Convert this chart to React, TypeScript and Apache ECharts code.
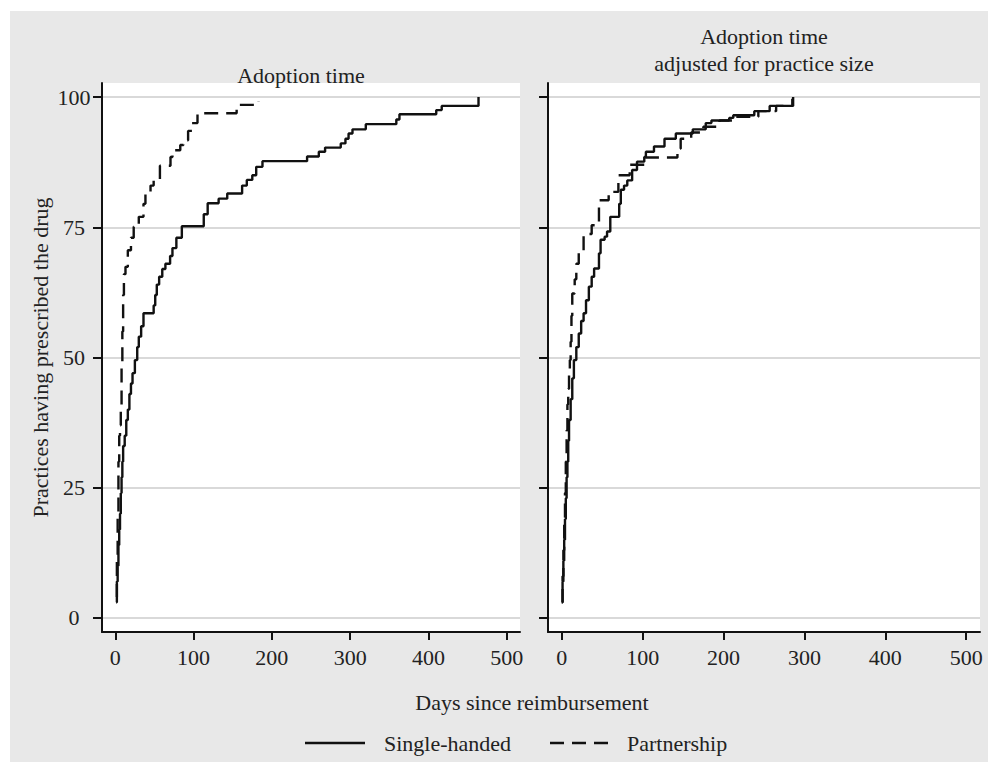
import React, { useEffect, useRef } from "react";
import * as echarts from "echarts";

const xTicks = [0, 100, 200, 300, 400, 500];
const yTicks = [0, 25, 50, 75, 100];

// Panel 1: Adoption time
const singleDays = [1, 2, 3, 4, 5, 6, 7, 8, 9, 10, 12, 14, 16, 18, 20, 22, 25, 28, 30, 33, 36, 49, 51, 53, 56, 60, 64, 70, 73, 78, 85, 113, 118, 132, 143, 162, 168, 175, 180, 188, 245, 260, 268, 288, 294, 298, 303, 320, 359, 363, 410, 417, 464];
const singlePct = [3, 7, 10, 14, 17, 20, 24, 27, 30, 33, 35, 38, 40, 43, 45, 47, 49.5, 52, 54, 56, 58.5, 60, 62, 64, 65.5, 67, 68, 69.5, 71, 73, 75.2, 77.5, 79.6, 80.5, 81.5, 83, 84.1, 85, 86.6, 87.7, 88.6, 89.5, 90.3, 91.1, 92, 93, 93.8, 94.8, 95.7, 96.7, 97.5, 98.3, 100];

const partnerDays = [1, 2, 3, 4, 5, 6, 7, 8, 9, 10, 11, 13, 16, 20, 23.5, 30, 36, 38.5, 45, 49, 57, 70.5, 73, 83, 87, 93, 98, 105, 155, 183];
const partnerPct = [4, 12, 20, 30, 35, 37, 40, 48, 55, 62, 66, 67.4, 70.6, 73, 75.1, 77, 79.5, 81.8, 83, 84, 86.8, 88.5, 89.8, 90.8, 91.7, 93.5, 95, 96.9, 98.5, 99.2];

// Panel 2: Adoption time adjusted for practice size
const singleAdjDays = [0, 1, 2, 3, 4, 5, 6, 7, 8, 9, 11, 13, 15, 18, 21, 24, 27, 30, 33.5, 37, 40, 46, 48, 53, 56, 60, 71, 73, 77, 81, 87, 93, 102, 104, 114, 127, 141, 162, 178, 185, 207, 212, 238, 257, 286];
const singleAdjPct = [3, 7, 11, 15, 19, 23, 27, 30, 34, 38, 42, 46, 49.5, 52, 54.6, 57, 58.5, 61, 63.6, 65.5, 67.1, 70, 72.6, 73.2, 74.2, 77, 79.5, 82.2, 83, 84, 86, 87.6, 88.5, 89.5, 90.5, 92, 93, 93.8, 95, 95.5, 96, 96.5, 97.3, 98.3, 100];

const partnerAdjDays = [0, 1, 2, 3, 4, 5, 6, 7, 8, 9, 10, 11, 12, 13, 16, 18, 21, 27, 37, 46, 58, 70, 84, 104, 143, 147, 160, 175, 195, 215, 243, 265, 285];
const partnerAdjPct = [3, 8, 13, 18, 24, 30, 36, 41, 44, 47, 49.5, 53, 58, 62.3, 65, 68, 70.6, 73.7, 75.4, 80.2, 81.8, 85, 87, 88.4, 90.1, 92, 93.2, 94.3, 95.5, 96.2, 97.3, 98.3, 99.7];

const seriesNames = ["Single-handed", "Partnership"];
const xTitle = "Days since reimbursement";
const yTitle = "Practices having prescribed the drug";
const panel1Title = "Adoption time";
const panel2Title = ["Adoption time", "adjusted for practice size"];

const FONT = "'Liberation Serif', 'Times New Roman', serif";
const INK = "#111";

const pairs = (d: number[], v: number[]) => d.map((x, i) => [x, v[i]]);

export default function App() {
  const ref = useRef<HTMLDivElement>(null);
  useEffect(() => {
    const chart = echarts.init(ref.current!, null, { renderer: "svg" });
    const xAxisFor = (i: number) => ({
      type: "value",
      gridIndex: i,
      min: -17,
      max: 517,
      axisLine: { show: true, onZero: false, lineStyle: { color: INK, width: 2 } },
      axisTick: { show: true, length: 8, customValues: xTicks, lineStyle: { color: INK, width: 2 } },
      axisLabel: { customValues: xTicks, fontSize: 22, fontFamily: FONT, color: "#222", margin: 14 },
      splitLine: { show: false },
    });
    const yAxisFor = (i: number) => ({
      type: "value",
      gridIndex: i,
      min: -2.7,
      max: 102.7,
      name: i === 0 ? yTitle : "",
      nameLocation: "middle",
      nameGap: 51,
      nameTextStyle: { fontSize: 22, fontFamily: FONT, color: "#222" },
      axisLine: { show: true, onZero: false, lineStyle: { color: INK, width: 2 } },
      axisTick: { show: true, length: 9, customValues: yTicks, lineStyle: { color: INK, width: 2 } },
      axisLabel: { show: i === 0, customValues: yTicks, fontSize: 22, fontFamily: FONT, color: "#222", align: "center", margin: 28 },
      splitLine: { show: true, lineStyle: { color: "#d9d9d9", width: 2 } },
    });
    const lineSeries = (name: string, data: number[][], idx: number, dashed: boolean) => ({
      type: "line",
      name,
      xAxisIndex: idx,
      yAxisIndex: idx,
      step: "end",
      symbol: "none",
      showSymbol: false,
      data,
      z: 3,
      lineStyle: { color: INK, width: 2.4, type: dashed ? [14, 8] : "solid" },
    });
    const txt = (text: string, x: number, y: number, align = "center") => ({
      type: "text",
      x,
      y,
      style: { text, align, verticalAlign: "middle", fontSize: 22, fontFamily: FONT, fill: "#222" },
    });
    chart.setOption({
      animation: false,
      backgroundColor: "#fff",
      grid: [
        { left: 102, top: 83, width: 418, height: 549, show: true, backgroundColor: "#fff", borderWidth: 0 },
        { left: 548, top: 83, width: 432, height: 549, show: true, backgroundColor: "#fff", borderWidth: 0 },
      ],
      xAxis: [xAxisFor(0), xAxisFor(1)],
      yAxis: [yAxisFor(0), yAxisFor(1)],
      series: [
        lineSeries(seriesNames[0], pairs(singleDays, singlePct), 0, false),
        lineSeries(seriesNames[1], pairs(partnerDays, partnerPct), 0, true),
        lineSeries(seriesNames[0], pairs(singleAdjDays, singleAdjPct), 1, false),
        lineSeries(seriesNames[1], pairs(partnerAdjDays, partnerAdjPct), 1, true),
      ],
      graphic: [
        { type: "rect", z: -10, shape: { x: 10, y: 11, width: 978, height: 751 }, style: { fill: "#e8e8e8" }, silent: true },
        txt(panel1Title, 301, 75),
        txt(panel2Title[0], 764, 36),
        txt(panel2Title[1], 764, 63),
        txt(xTitle, 532, 702),
        { type: "line", shape: { x1: 305, y1: 743, x2: 365, y2: 743 }, style: { stroke: INK, lineWidth: 2.4 } },
        txt(seriesNames[0], 384, 743, "left"),
        { type: "line", shape: { x1: 550, y1: 743, x2: 614, y2: 743 }, style: { stroke: INK, lineWidth: 2.4, lineDash: [14, 8] } },
        txt(seriesNames[1], 627, 743, "left"),
      ],
    });
    return () => chart.dispose();
  }, []);
  return (
    <div
      ref={ref}
      style={{ position: "fixed", left: 0, top: 0, width: 988, height: 762, background: "#fff" }}
    />
  );
}
